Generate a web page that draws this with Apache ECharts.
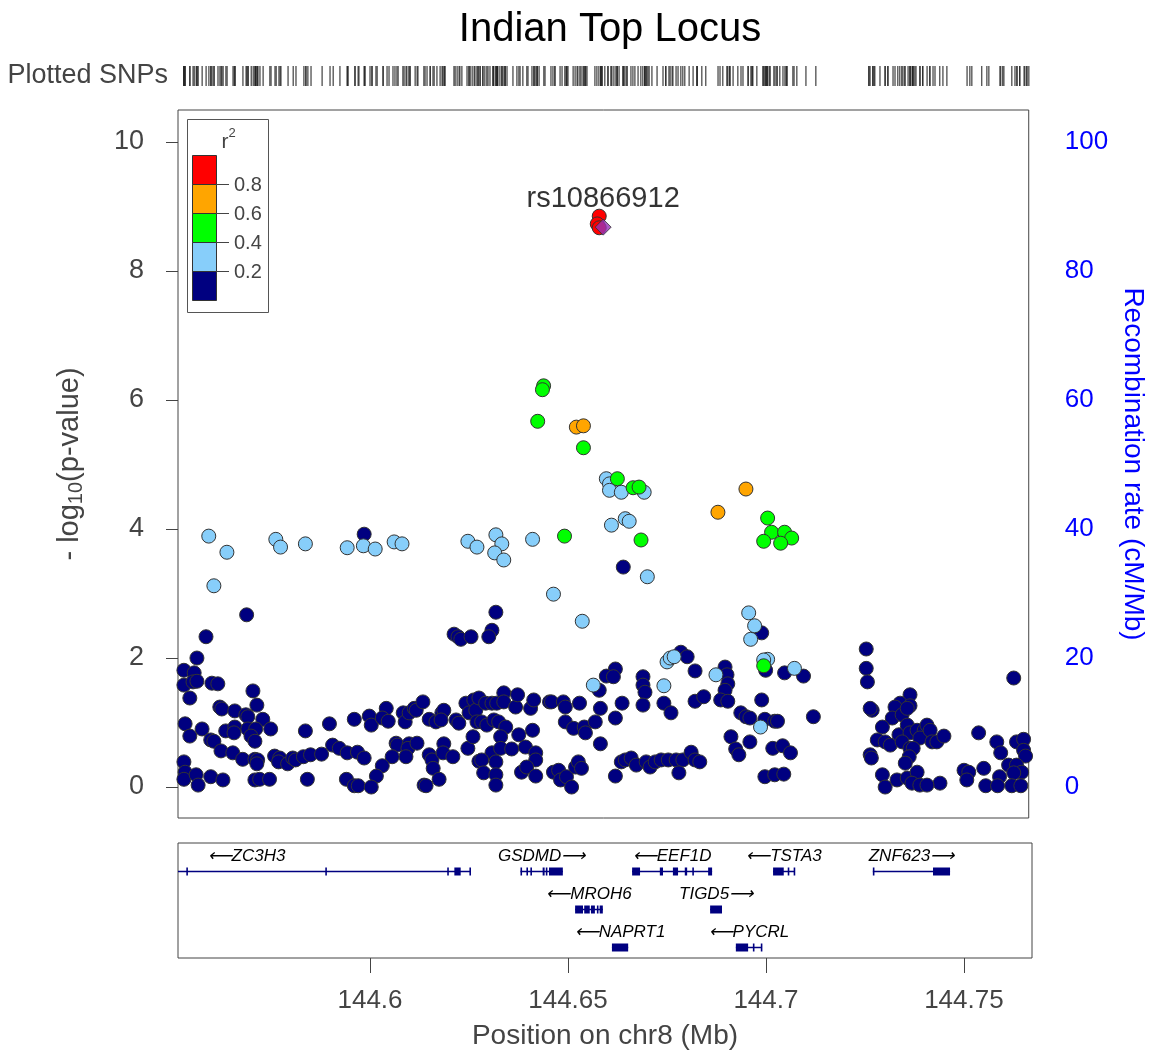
<!DOCTYPE html>
<html><head><meta charset="utf-8">
<script src="https://cdn.jsdelivr.net/npm/echarts@6/dist/echarts.min.js"></script>
<style>html,body{margin:0;padding:0;background:#fff}#c{width:1155px;height:1061px}</style>
</head><body><div id="c"></div>
<script>
// ---------------- DATA ----------------
const xTicks = [144.6, 144.65, 144.7, 144.75];
const yTicks = [0, 2, 4, 6, 8, 10];
const recombTicks = [0, 20, 40, 60, 80, 100];
const leadSnp = {name: 'rs10866912', pos: 144.6593, logp: 8.68};

const snpNavy = [
[144.5689,2.67],[144.5586,2.33],[144.5563,2.00],[144.5530,1.81],[144.5556,1.77],[144.5530,1.58],[144.5553,1.63],[144.5563,1.64],
[144.5601,1.61],[144.5616,1.60],[144.5545,1.38],[144.5705,1.49],[144.5621,1.24],[144.5626,1.21],[144.5659,1.18],[144.5687,1.12],
[144.5692,1.09],[144.5715,1.27],[144.5730,1.05],[144.5533,0.98],[144.5545,0.79],[144.5576,0.90],[144.5598,0.73],[144.5606,0.71],
[144.5636,0.87],[144.5659,0.93],[144.5657,0.84],[144.5692,0.90],[144.5712,0.90],[144.5700,0.79],[144.5710,0.71],[144.5750,0.90],
[144.5838,0.87],[144.5899,0.98],[144.5624,0.56],[144.5654,0.53],[144.5679,0.43],[144.5710,0.43],[144.5717,0.42],[144.5715,0.36],
[144.5760,0.48],[144.5773,0.45],[144.5770,0.39],[144.5793,0.36],[144.5806,0.45],[144.5813,0.42],[144.5833,0.47],[144.5851,0.50],
[144.5879,0.51],[144.5530,0.39],[144.5533,0.23],[144.5530,0.12],[144.5561,0.19],[144.5566,0.03],[144.5598,0.16],[144.5629,0.11],
[144.5710,0.11],[144.5722,0.12],[144.5747,0.12],[144.5843,0.12],
[144.6215,2.37],[144.6225,2.33],[144.6232,2.29],[144.6258,2.33],[144.5962,1.05],[144.6000,1.10],[144.6005,0.96],[144.6043,1.22],
[144.6033,1.07],[144.6048,1.02],[144.6086,1.15],[144.6091,1.01],[144.6101,1.15],[144.6114,1.22],[144.6119,1.19],[144.6136,1.32],
[144.6152,1.05],[144.6169,1.01],[144.6184,1.15],[144.6189,1.19],[144.6182,1.04],[144.6220,1.04],[144.6227,0.99],[144.6245,1.30],
[144.6253,1.15],[144.6265,1.35],[144.6270,1.19],[144.6273,1.01],[144.5907,0.65],[144.5924,0.60],[144.5944,0.53],[144.5970,0.54],
[144.5987,0.45],[144.6068,0.68],[144.6071,0.65],[144.6101,0.67],[144.6098,0.60],[144.6121,0.68],[144.6093,0.47],[144.6058,0.47],
[144.6033,0.33],[144.6018,0.17],[144.5942,0.12],[144.5962,0.02],[144.5972,0.02],[144.6005,0.00],[144.6152,0.50],[144.6159,0.42],
[144.6162,0.29],[144.6189,0.67],[144.6187,0.53],[144.6212,0.47],[144.6177,0.12],[144.6139,0.03],[144.6144,0.02],[144.6250,0.60],
[144.6263,0.78],[144.6278,0.40],[144.5987,3.92],
[144.6321,2.71],[144.6311,2.43],[144.6303,2.33],[144.6644,3.41],[144.6624,1.83],[144.6601,1.72],[144.6619,1.71],[144.6583,1.50],
[144.6278,1.38],[144.6295,1.30],[144.6311,1.30],[144.6323,1.30],[144.6341,1.46],[144.6341,1.32],[144.6371,1.24],[144.6376,1.43],
[144.6409,1.22],[144.6417,1.35],[144.6457,1.32],[144.6462,1.32],[144.6492,1.32],[144.6497,1.24],[144.6533,1.30],[144.6586,1.22],
[144.6624,1.07],[144.6641,1.30],[144.6285,1.01],[144.6298,0.96],[144.6316,1.04],[144.6328,1.01],[144.6346,0.93],[144.6333,0.78],
[144.6379,0.81],[144.6414,0.88],[144.6497,1.01],[144.6518,0.91],[144.6545,0.93],[144.6548,0.84],[144.6573,1.01],[144.6586,0.67],
[144.6311,0.53],[144.6333,0.60],[144.6361,0.59],[144.6396,0.62],[144.6422,0.53],[144.6422,0.42],[144.6321,0.39],[144.6285,0.42],
[144.6290,0.22],[144.6321,0.19],[144.6321,0.03],[144.6386,0.23],[144.6399,0.31],[144.6422,0.17],[144.6467,0.23],[144.6480,0.26],
[144.6485,0.11],[144.6500,0.16],[144.6513,0.00],[144.6523,0.31],[144.6530,0.39],[144.6538,0.29],[144.6624,0.17],[144.6639,0.39],
[144.6649,0.42],
[144.6995,2.39],[144.7005,1.81],[144.6790,2.09],[144.6806,2.02],[144.6826,1.80],[144.6902,1.86],[144.6907,1.74],[144.6909,1.60],
[144.6902,1.50],[144.6891,1.35],[144.6909,1.33],[144.6694,1.71],[144.6694,1.58],[144.6699,1.47],[144.6694,1.27],[144.6747,1.30],
[144.6765,1.15],[144.6826,1.33],[144.6848,1.40],[144.6995,1.35],[144.6942,1.15],[144.6955,1.09],[144.6965,1.07],[144.7003,1.05],
[144.7028,1.02],[144.6917,0.78],[144.6929,0.59],[144.6937,0.50],[144.6965,0.70],[144.7023,0.60],[144.6664,0.45],[144.6677,0.34],
[144.6702,0.39],[144.6712,0.31],[144.6725,0.39],[144.6740,0.42],[144.6758,0.42],[144.6778,0.42],[144.6795,0.42],[144.6816,0.54],
[144.6826,0.42],[144.6838,0.39],[144.6785,0.22],[144.7003,0.16],[144.7028,0.19],
[144.7260,2.14],[144.7260,1.84],[144.7263,1.63],[144.7053,1.77],[144.7101,1.72],[144.7035,1.02],[144.7126,1.09],[144.7048,0.64],
[144.7068,0.53],[144.7051,0.20],[144.7275,1.19],[144.7270,1.22],[144.7371,1.43],[144.7346,1.30],[144.7371,1.26],[144.7333,1.24],
[144.7326,1.07],[144.7351,1.12],[144.7364,1.22],[144.7301,0.93],[144.7288,0.73],[144.7308,0.70],[144.7321,0.65],[144.7343,0.81],
[144.7364,0.96],[144.7371,0.84],[144.7389,0.88],[144.7407,0.88],[144.7396,0.76],[144.7351,0.70],[144.7371,0.60],[144.7379,0.60],
[144.7369,0.47],[144.7359,0.37],[144.7270,0.50],[144.7273,0.45],[144.7301,0.19],[144.7308,0.00],[144.7338,0.11],[144.7364,0.14],
[144.7389,0.23],[144.7376,0.06],[144.7396,0.03],
[144.7634,1.69],[144.7414,0.96],[144.7422,0.88],[144.7427,0.70],[144.7439,0.70],[144.7457,0.79],[144.7545,0.84],[144.7591,0.70],
[144.7601,0.53],[144.7641,0.70],[144.7659,0.74],[144.7659,0.57],[144.7664,0.48],[144.7621,0.34],[144.7641,0.34],[144.7654,0.23],
[144.7634,0.22],[144.7508,0.26],[144.7520,0.23],[144.7515,0.11],[144.7558,0.29],[144.7598,0.16],[144.7447,0.06],[144.7414,0.03],
[144.7563,0.02],[144.7593,0.02],[144.7629,0.02],[144.7652,0.02]
];
const snpLightBlue = [
[144.5593,3.89],[144.5639,3.64],[144.5606,3.12],[144.5763,3.84],[144.5775,3.72],[144.5838,3.77],[144.5944,3.71],[144.5985,3.74],
[144.6015,3.69],[144.6063,3.80],[144.6083,3.77],[144.6250,3.81],[144.6273,3.72],[144.6321,3.91],[144.6336,3.77],[144.6318,3.63],
[144.6341,3.52],[144.6414,3.84],[144.6467,2.99],[144.6540,2.57],[144.6601,4.78],[144.6609,4.70],[144.6609,4.60],[144.6639,4.57],
[144.6697,4.57],[144.6614,4.06],[144.6649,4.16],[144.6659,4.12],[144.6705,3.26],[144.6962,2.70],[144.6977,2.50],[144.6967,2.29],
[144.7010,1.98],[144.7000,1.97],[144.6755,1.94],[144.6763,2.00],[144.6773,2.02],[144.6879,1.74],[144.6747,1.57],[144.6992,0.93],
[144.7078,1.84],[144.6568,1.58]
];
const snpGreen = [
[144.6442,6.22],[144.6439,6.16],[144.6427,5.67],[144.6543,5.26],[144.6629,4.78],[144.6669,4.64],[144.6684,4.65],[144.7010,4.17],
[144.7020,3.95],[144.7053,3.95],[144.7071,3.86],[144.7000,3.81],[144.7043,3.78],[144.6495,3.89],[144.6689,3.83],[144.7000,1.88]
];
const snpOrange = [[144.6525,5.58],[144.6543,5.60],[144.6955,4.62],[144.6884,4.26]];
const snpRed = [[144.6583,8.85],[144.6578,8.73],[144.6583,8.67]];

const geneNames  = ['ZC3H3','GSDMD','MROH6','NAPRT1','EEF1D','TIGD5','PYCRL','TSTA3','ZNF623'];
const geneStart  = [144.5121,144.6380,144.6518,144.6611,144.6662,144.6859,144.6924,144.7018,144.7270];
const geneEnd    = [144.6255,144.6487,144.6588,144.6652,144.6864,144.6889,144.6990,144.7073,144.7465];
const geneStrand = ['-','+','-','-','-','+','-','-','+'];
const geneRow    = [1,1,2,3,1,2,3,1,1];
const geneExons  = [
  [[144.5536,144.5540],[144.5887,144.5891],[144.6195,144.6199],[144.6213,144.6229],[144.6251,144.6255]],
  [[144.6380,144.6383],[144.6395,144.6398],[144.6405,144.6408],[144.6436,144.6441],[144.6444,144.6447],[144.6452,144.6487]],
  [[144.6518,144.6538],[144.6541,144.6555],[144.6558,144.6568],[144.6573,144.6577],[144.6580,144.6588]],
  [[144.6611,144.6652]],
  [[144.6662,144.6682],[144.6732,144.6740],[144.6765,144.6778],[144.6795,144.6801],[144.6814,144.6818],[144.6854,144.6864]],
  [[144.6859,144.6889]],
  [[144.6924,144.6955],[144.6967,144.6970],[144.6987,144.6990]],
  [[144.7018,144.7045],[144.7055,144.7058],[144.7070,144.7073]],
  [[144.7270,144.7273],[144.7422,144.7465]]
];

const ldColors = ['#000080','#87CEFA','#00FF00','#FFA500','#FF0000'];
const ldBreaks = ['0.2','0.4','0.6','0.8'];

// ---------------- CHART ----------------
const FONT = '"Liberation Sans", Arial, sans-serif';
const X_MIN = 144.5515, X_MAX = 144.7672;
const chart = echarts.init(document.getElementById('c'), null, {renderer: 'canvas'});

const allPos = [].concat(snpNavy, snpLightBlue, snpGreen, snpOrange, snpRed, [[leadSnp.pos, leadSnp.logp]]).map(p => [p[0], 0.5]);

function ptSeries(data, color) {
  return {type: 'scatter', xAxisIndex: 0, yAxisIndex: 0, data: data, symbol: 'circle', symbolSize: 14,
    itemStyle: {color: color, borderColor: '#333', borderWidth: 1, opacity: 1}, silent: true, z: 3};
}

const legendGraphics = [];
legendGraphics.push({type: 'rect', shape: {x: 187.5, y: 119.5, width: 81, height: 193}, style: {fill: '#fff', stroke: '#555', lineWidth: 1}, z: 10});
legendGraphics.push({type: 'text', x: 225, y: 142, style: {text: 'r', font: '21px ' + FONT, fill: '#444', textAlign: 'center', textVerticalAlign: 'middle'}, z: 11});
legendGraphics.push({type: 'text', x: 232, y: 133, style: {text: '2', font: '13px ' + FONT, fill: '#444', textAlign: 'center', textVerticalAlign: 'middle'}, z: 11});
for (let i = 0; i < 5; i++) {
  const col = ldColors[4 - i];
  legendGraphics.push({type: 'rect', shape: {x: 192.5, y: 155.5 + i * 29, width: 24, height: 29}, style: {fill: col, stroke: '#333', lineWidth: 1}, z: 11});
}
for (let i = 0; i < 4; i++) {
  const yy = 184.5 + i * 29;
  legendGraphics.push({type: 'line', shape: {x1: 216, y1: yy, x2: 229, y2: yy}, style: {stroke: '#444', lineWidth: 1}, z: 11});
  legendGraphics.push({type: 'text', x: 234, y: yy + 1, style: {text: ldBreaks[3 - i], font: '20px ' + FONT, fill: '#444', textVerticalAlign: 'middle'}, z: 11});
}

const option = {
  animation: false,
  backgroundColor: '#fff',
  title: {text: 'Indian Top Locus', left: 605, top: 5, textAlign: 'center',
    textStyle: {fontFamily: FONT, fontSize: 40, fontWeight: 'normal', color: '#000'}},
  grid: [
    {left: 178, top: 110, width: 854, height: 708, show: true, borderColor: '#444', borderWidth: 1, backgroundColor: 'transparent'},
    {left: 178, top: 843, width: 854, height: 115, show: true, borderColor: '#444', borderWidth: 1, backgroundColor: 'transparent'},
    {left: 178, top: 66, width: 854, height: 20, show: false}
  ],
  xAxis: [
    {type: 'value', gridIndex: 0, min: X_MIN, max: X_MAX, show: false},
    {type: 'value', gridIndex: 1, min: X_MIN, max: X_MAX, position: 'bottom',
      axisLine: {show: false}, splitLine: {show: false},
      axisTick: {show: true, customValues: xTicks, length: 15, lineStyle: {color: '#444'}},
      axisLabel: {show: true, customValues: xTicks, margin: 30, fontFamily: FONT, fontSize: 26, color: '#444'},
      name: 'Position on chr8 (Mb)', nameLocation: 'middle', nameGap: 64,
      nameTextStyle: {fontFamily: FONT, fontSize: 28, color: '#444'}},
    {type: 'value', gridIndex: 2, min: X_MIN, max: X_MAX, show: false}
  ],
  yAxis: [
    {type: 'value', gridIndex: 0, min: -0.48, max: 10.496, position: 'left',
      axisLine: {show: false}, splitLine: {show: false},
      axisTick: {show: true, customValues: yTicks, length: 12, lineStyle: {color: '#444'}},
      axisLabel: {show: true, customValues: yTicks, margin: 34, fontFamily: FONT, fontSize: 27, color: '#444'},
      name: '- log{s|10}(p-value)', nameLocation: 'middle', nameGap: 92, nameRotate: 90,
      nameTextStyle: {fontFamily: FONT, fontSize: 29, color: '#444',
        rich: {s: {fontFamily: FONT, fontSize: 20, color: '#444', padding: [12, 0, 0, 0]}}}},
    {type: 'value', gridIndex: 0, min: -4.8, max: 104.96, position: 'right',
      axisLine: {show: false}, splitLine: {show: false},
      axisTick: {show: false},
      axisLabel: {show: true, customValues: recombTicks, margin: 36, fontFamily: FONT, fontSize: 26, color: '#0000FF'},
      name: 'Recombination rate (cM/Mb)', nameLocation: 'middle', nameGap: 89, nameRotate: -90,
      nameTextStyle: {fontFamily: FONT, fontSize: 28, color: '#0000FF'}},
    {type: 'value', gridIndex: 1, min: 0.264, max: 3.29, inverse: true, show: false},
    {type: 'value', gridIndex: 2, min: 0, max: 1, show: false}
  ],
  graphic: [
    {type: 'text', right: 1155 - 168, top: 62, style: {text: 'Plotted SNPs', font: '27px ' + FONT, fill: '#444'}}
  ].concat(legendGraphics),
  series: [
    {type: 'scatter', xAxisIndex: 2, yAxisIndex: 3, data: allPos, symbol: 'rect', symbolSize: [1.3, 20],
      itemStyle: {color: '#222'}, silent: true},
    ptSeries(snpNavy, ldColors[0]),
    ptSeries(snpLightBlue, ldColors[1]),
    ptSeries(snpGreen, ldColors[2]),
    ptSeries(snpOrange, ldColors[3]),
    ptSeries(snpRed, ldColors[4]),
    {type: 'scatter', xAxisIndex: 0, yAxisIndex: 0, data: [[leadSnp.pos, leadSnp.logp]], symbol: 'diamond', symbolSize: 16,
      itemStyle: {color: '#9632B8', borderColor: '#333', borderWidth: 1}, silent: true, z: 4,
      label: {show: true, position: 'top', distance: 5, formatter: leadSnp.name, fontFamily: FONT, fontSize: 29, color: '#000'}},
    {type: 'custom', xAxisIndex: 1, yAxisIndex: 2, coordinateSystem: 'cartesian2d', clip: true, silent: true,
      data: geneNames.map((n, i) => [i, geneRow[i]]),
      encode: {x: -1, y: 1},
      renderItem: function (params, api) {
        const i = api.value(0);
        const row = geneRow[i];
        const cs = params.coordSys;
        const p1 = api.coord([geneStart[i], row]);
        const p2 = api.coord([geneEnd[i], row]);
        const yc = Math.round(p1[1]) + 0.5;
        const children = [];
        const x1 = Math.max(p1[0], cs.x), x2 = Math.min(p2[0], cs.x + cs.width);
        children.push({type: 'line', shape: {x1: x1, y1: yc, x2: x2, y2: yc}, style: {stroke: '#000080', lineWidth: 1.5}});
        geneExons[i].forEach(function (e) {
          const a = api.coord([e[0], row]), b = api.coord([e[1], row]);
          const w = Math.max(b[0] - a[0], 1.6);
          children.push({type: 'rect', shape: {x: a[0], y: yc - 4, width: w, height: 8}, style: {fill: '#000080'}});
        });
        const cx = (p1[0] + p2[0]) / 2;
        const lbl = geneStrand[i] === '-' ? '\u27F5' + geneNames[i] : geneNames[i] + '\u27F6';
        children.push({type: 'text', x: cx, y: yc - 15,
          style: {text: lbl, font: 'italic 17px ' + FONT, fill: '#000', textAlign: 'center', textVerticalAlign: 'middle'}});
        return {type: 'group', children: children};
      }}
  ]
};
chart.setOption(option);
</script></body></html>
